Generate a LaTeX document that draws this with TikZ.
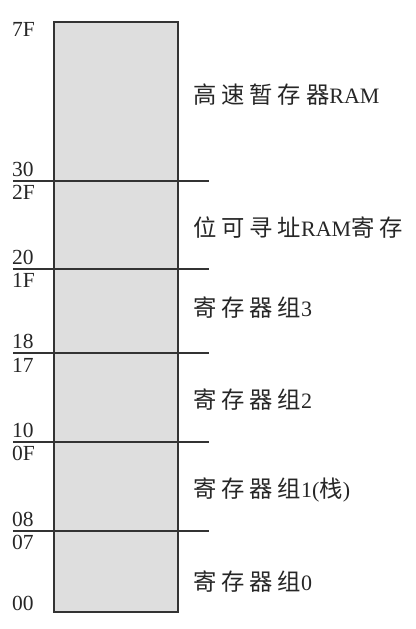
\documentclass[tikz,border=0pt]{standalone}
\usepackage{fontspec}
\setmainfont{Liberation Serif}
\newfontfamily\cjk[Scale=1.06,LetterSpace=21]{Noto Sans CJK SC}
\begin{document}
\begin{tikzpicture}[x=1pt,y=-1pt,
  addr/.style={anchor=base west,inner sep=0pt,font=\fontsize{21.5}{24}\selectfont,text=black!85},
  region/.style={anchor=west,inner sep=0pt,font=\fontsize{22}{26}\selectfont,text=black!85},
  sep/.style={draw=black!80,line width=1.3pt}]
\useasboundingbox (0,0) rectangle (415,629);
\path[fill=black!13,draw=black!80,line width=1.6pt] (54,22) rectangle (178,612);
\foreach \y/\n in {181/a,269/b,353/c,442/d,531/e}{
  \coordinate (l\n) at (13,\y);
  \coordinate (r\n) at (209,\y);
  \draw[sep] (l\n) -- (r\n);
}
\node[addr] (n7F) at (12,36) {7F};
\node[addr] (n30) at (12,176) {30};
\node[addr] (n2F) at (12,199) {2F};
\node[addr] (n20) at (12,264) {20};
\node[addr] (n1F) at (12,287) {1F};
\node[addr] (n18) at (12,348) {18};
\node[addr] (n17) at (12,372) {17};
\node[addr] (n10) at (12,437) {10};
\node[addr] (n0F) at (12,460) {0F};
\node[addr] (n08) at (12,526) {08};
\node[addr] (n07) at (12,549) {07};
\node[addr] (n00) at (12,610) {00};
\node[region] (g1) at (193,95) {{\cjk 高速暂存器}RAM};
\node[region] (g2) at (193,228) {{\cjk 位可寻址}RAM{\cjk 寄存}};
\node[region] (g3) at (193,308) {{\cjk 寄存器组}3};
\node[region] (g4) at (193,400) {{\cjk 寄存器组}2};
\node[region] (g5) at (193,490) {{\cjk 寄存器组}1({\cjk 栈})};
\node[region] (g6) at (193,582) {{\cjk 寄存器组}0};
\end{tikzpicture}
\end{document}
